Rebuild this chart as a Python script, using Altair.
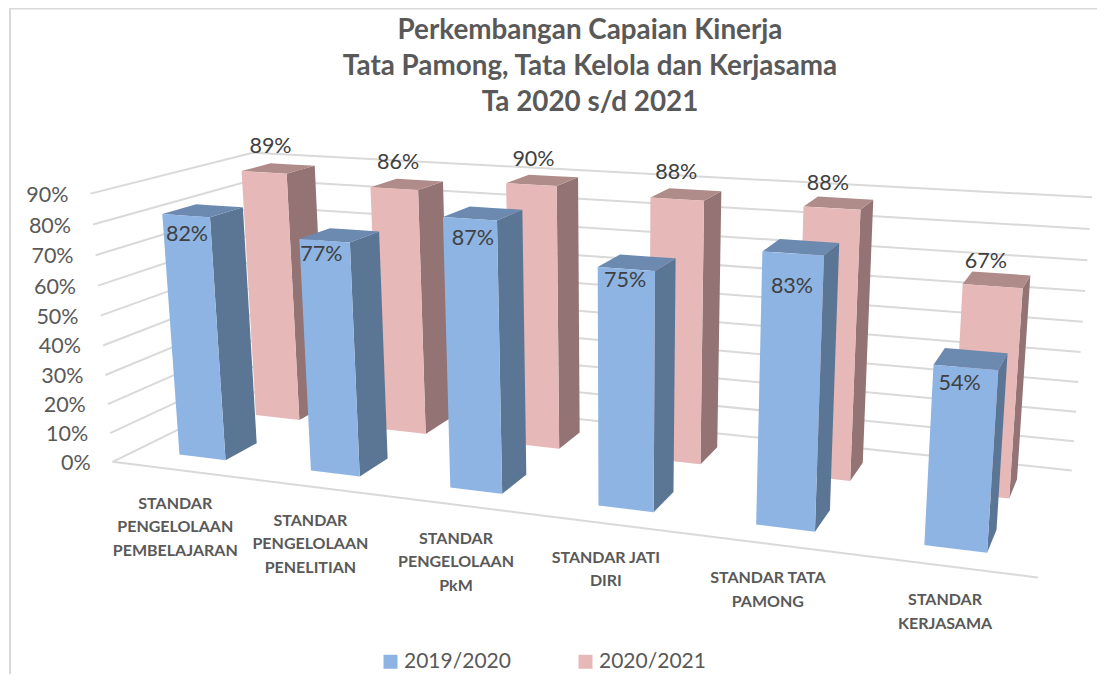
import numpy as np
import pandas as pd
import altair as alt

# ---------- values ----------
categories = ["STANDAR\nPENGELOLAAN\nPEMBELAJARAN", "STANDAR\nPENGELOLAAN\nPENELITIAN",
              "STANDAR\nPENGELOLAAN\nPkM", "STANDAR JATI\nDIRI", "STANDAR TATA\nPAMONG", "STANDAR\nKERJASAMA"]
series_names = ["2019/2020", "2020/2021"]
values_2019 = [82, 77, 87, 75, 83, 54]
values_2020 = [89, 86, 90, 88, 88, 67]
ticks = [0, 10, 20, 30, 40, 50, 60, 70, 80, 90]
title_lines = ["Perkembangan Capaian Kinerja", "Tata Pamong, Tata Kelola dan Kerjasama", "Ta 2020 s/d 2021"]

# ---------- label nudges (layout only, pixels) ----------
nudge_2019 = [(2, 1), (-2, -4), (4, 2), (0, -6), (0, 16), (-5, -1)]
nudge_2020 = [(1, 1), (0, 1), (0, 2), (-1, 1), (-2, 3), (-2, 4)]
nudge_cat = [2, 2, 4, 1, 0, 3]

# ---------- perspective camera calibrated on the box of the 3D chart ----------
# (X along categories 0..1, Y depth 0..1, Z percent) -> page pixels
anchors = [((0, 0, 0), (111, 463)), ((0, 0, 90), (91, 194)), ((0, 1, 0), (268, 385)),
           ((0, 1, 90), (250, 153.5)), ((1, 1, 0), (1072, 471)), ((1, 1, 90), (1092, 198)),
           ((1, 0, 0), (1037, 578)), ((.0535, .145, 82), (163, 214)), ((.947, .145, 54), (997, 369)),
           ((.78, .145, 83), (824, 254)), ((.947, .145, 0), (986, 553)), ((.0535, .145, 0), (178, 454))]
rows_a, rows_b = [], []
for (X, Y, Z), (u, v) in anchors:
    Z = Z / 90
    rows_a.append([X, Y, Z, 1, 0, 0, 0, 0, -u * X, -u * Y, -u * Z]); rows_b.append(u)
    rows_a.append([0, 0, 0, 0, X, Y, Z, 1, -v * X, -v * Y, -v * Z]); rows_b.append(v)
cam = np.append(np.linalg.lstsq(np.array(rows_a, float), np.array(rows_b, float), rcond=None)[0], 1).reshape(3, 4)


def project(X, Y, Z):
    w = cam @ np.array([X, Y, Z / 90, 1.0])
    return float(w[0] / w[2]), float(w[1] / w[2])


def quad_rows(poly, bar):
    """Express a convex quad as area rows (x, upper y, lower y)."""
    rows = []
    n = len(poly)
    for vx in sorted({p[0] for p in poly}):
        ys = []
        for k in range(n):
            (x0, y0), (x1, y1) = poly[k], poly[(k + 1) % n]
            if min(x0, x1) <= vx <= max(x0, x1):
                if x0 == x1:
                    ys += [y0, y1]
                else:
                    ys.append(y0 + (vx - x0) / (x1 - x0) * (y1 - y0))
        rows.append(dict(x=vx, y=min(ys), y2=max(ys), bar=bar))
    return rows


BAR_LEFT, BAR_W = 0.055, 0.0595
DEPTHS = {"2019/2020": (0.145, 0.347), "2020/2021": (0.645, 0.845)}


def faces(name, vals):
    y0, y1 = DEPTHS[name]
    front, side, top = [], [], []
    for i, v in enumerate(vals):
        x0 = i / 6 + BAR_LEFT
        x1 = x0 + BAR_W
        bar = f"{name}-{i}"
        front += quad_rows([project(x0, y0, v), project(x1, y0, v), project(x1, y0, 0), project(x0, y0, 0)], bar)
        side += quad_rows([project(x1, y0, v), project(x1, y1, v), project(x1, y1, 0), project(x1, y0, 0)], bar)
        top += quad_rows([project(x0, y0, v), project(x0, y1, v), project(x1, y1, v), project(x1, y0, v)], bar)
    f = pd.DataFrame(front)
    f["series"] = name
    return f, pd.DataFrame(side), pd.DataFrame(top)


W, H = 1089, 666
sx = alt.Scale(domain=[8, 8 + W], range=[0, W], nice=False, zero=False)
sy = alt.Scale(domain=[8 + H, 8], range=[H, 0], nice=False, zero=False)
xe = alt.X("x:Q", scale=sx, axis=None)
ye = alt.Y("y:Q", scale=sy, axis=None)

# grid on the left and back walls
grid = []
for t in ticks:
    for k, (X, Y) in enumerate([(0, 0), (0, 1), (1, 1)]):
        px, py = project(X, Y, t)
        grid.append(dict(x=px, y=py, level=t, k=k))
for k, (X, Y) in enumerate([(0, 0), (1, 0)]):
    px, py = project(X, Y, 0)
    grid.append(dict(x=px, y=py, level=-1, k=k))
grid_layer = alt.Chart(pd.DataFrame(grid)).mark_line(color="#D9D9D9", strokeWidth=2).encode(
    x=xe, y=ye, detail="level:N", order="k:Q")

# chart-area border, running off the plot on the right and bottom
border_layer = alt.Chart(pd.DataFrame([
    dict(x=10, y=674, k=0), dict(x=10, y=8.5, k=1), dict(x=1097, y=8.5, k=2)])).mark_line(
    color="#D9D9D9", strokeWidth=2).encode(x=xe, y=ye, order="k:Q")

color = alt.Color("series:N", scale=alt.Scale(domain=series_names, range=["#8DB4E2", "#E6B8B7"]),
                  legend=alt.Legend(title=None, orient="none", legendX=372, legendY=643, direction="horizontal",
                                    symbolType="square", symbolSize=196, symbolStrokeWidth=0, labelFont="Lato",
                                    labelFontSize=21, labelColor="#595959", labelOffset=3, columnPadding=64))


def area_layers(name, vals, side_col, top_col):
    f, s, t = faces(name, vals)
    ax = alt.Chart(s).mark_area(fill=side_col, orient="vertical").encode(x=xe, y=ye, y2="y2:Q", detail="bar:N")
    at = alt.Chart(t).mark_area(fill=top_col, orient="vertical").encode(x=xe, y=ye, y2="y2:Q", detail="bar:N")
    af = alt.Chart(f).mark_area(orient="vertical").encode(x=xe, y=ye, y2="y2:Q", detail="bar:N", color=color)
    return [ax, at, af]


pink = area_layers("2020/2021", values_2020, "#937373", "#AF8B89")
blue = area_layers("2019/2020", values_2019, "#5B7595", "#6C89AF")

# tick labels
tick_rows = []
for t in ticks:
    px, py = project(0, 0, t)
    tick_rows.append(dict(x=px - 22, y=py + 2, label=f"{t}%"))
tick_layer = alt.Chart(pd.DataFrame(tick_rows)).mark_text(
    font="Lato", fontSize=21.5, color="#595959", align="right", baseline="middle").encode(x=xe, y=ye, text="label:N")

# value labels
val_rows = []
for i, (a, b) in enumerate(zip(values_2019, values_2020)):
    px, py = project(i / 6 + BAR_LEFT + BAR_W / 2, DEPTHS["2019/2020"][0], a)
    val_rows.append(dict(x=px - 1 + nudge_2019[i][0], y=py + 18 + nudge_2019[i][1], label=f"{a}%"))
    px, py = project(i / 6 + BAR_LEFT + BAR_W / 2, sum(DEPTHS["2020/2021"]) / 2, b)
    val_rows.append(dict(x=px - 9 + nudge_2020[i][0], y=py - 22 + nudge_2020[i][1], label=f"{b}%"))
val_layer = alt.Chart(pd.DataFrame(val_rows)).mark_text(
    font="Lato", fontSize=21.5, color="#404040", align="center", baseline="middle").encode(x=xe, y=ye, text="label:N")

# category labels
cat_rows = []
for i, c in enumerate(categories):
    px, py = project((i + .5) / 6, 0, 0)
    cat_rows.append(dict(x=px - 4 + nudge_cat[i], y=py + 34, label=c))
cat_layer = alt.Chart(pd.DataFrame(cat_rows)).mark_text(
    font="Lato", fontWeight="bold", fontSize=16, color="#595959", align="center", baseline="middle",
    lineBreak="\n", lineHeight=23.5).encode(x=xe, y=ye, text="label:N")

# title
title_rows = [dict(x=590, y=31 + 36 * k, label=s) for k, s in enumerate(title_lines)]
title_layer = alt.Chart(pd.DataFrame(title_rows)).mark_text(
    font="Lato", fontWeight="bold", fontSize=27.8, color="#595959", align="center", baseline="middle").encode(
    x=xe, y=ye, text="label:N")

chart = alt.layer(border_layer, grid_layer, *pink, *blue, tick_layer, val_layer, cat_layer, title_layer).properties(
    width=W, height=H, padding=0, autosize=alt.AutoSizeParams(type="none"),
    background="white").configure_view(stroke=None)
chart.save("out.html", embed_options={"renderer": "svg", "actions": False})
